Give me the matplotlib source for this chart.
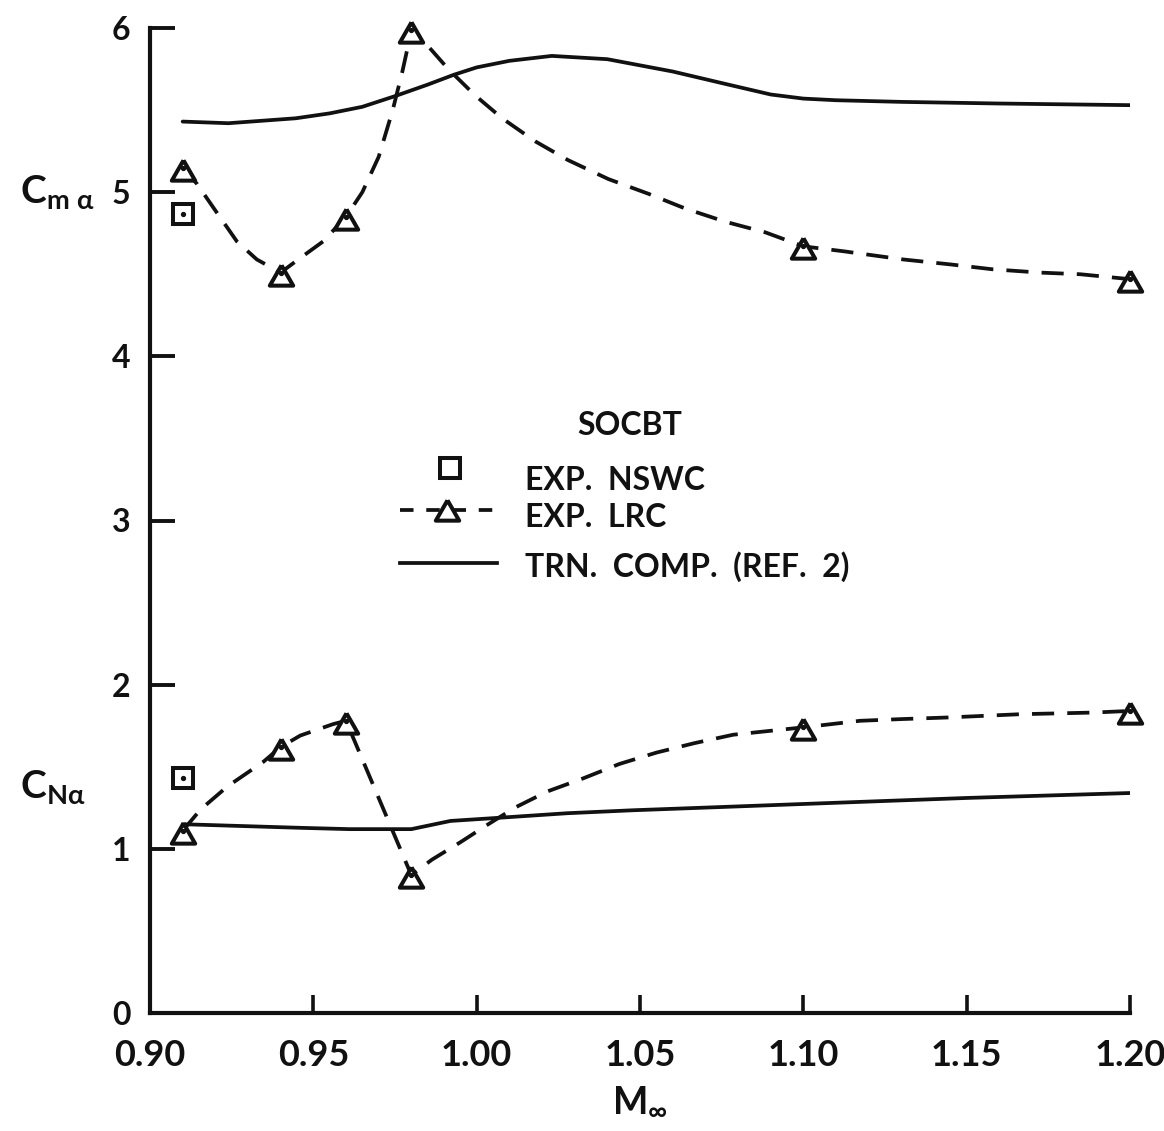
import matplotlib
matplotlib.use("Agg")
import matplotlib.pyplot as plt

plt.rcParams["font.family"] = ["Lato", "DejaVu Sans"]
plt.rcParams["font.weight"] = "bold"
plt.rcParams["mathtext.fontset"] = "dejavusans"
plt.rcParams["mathtext.default"] = "bf"

# Measured points, LRC tunnel (triangles)
mach_lrc = [0.91, 0.94, 0.96, 0.98, 1.10, 1.20]
cma_lrc = [5.15, 4.51, 4.85, 5.99, 4.67, 4.47]
cna_lrc = [1.11, 1.62, 1.78, 0.84, 1.74, 1.84]

# Measured points, NSWC tunnel (squares)
mach_nswc = [0.91]
cma_nswc = [4.87]
cna_nswc = [1.43]

# Faired curve through the LRC pitching-moment points
cma_fair_mach = [0.910, 0.9144, 0.9196, 0.9266, 0.9327, 0.940, 0.9447, 0.953, 0.960,
                 0.965, 0.970, 0.9743, 0.9772, 0.9792, 0.980, 0.984, 0.9913, 0.9995,
                 1.0078, 1.0179, 1.028, 1.0403, 1.0526, 1.0639, 1.0761, 1.0884, 1.100,
                 1.1123, 1.1306, 1.145, 1.158, 1.1725, 1.1848, 1.200]
cma_fair = [5.15, 5.05, 4.90, 4.70, 4.59, 4.51, 4.58, 4.70, 4.85,
            5.00, 5.215, 5.50, 5.73, 5.91, 5.99, 5.915, 5.75, 5.59,
            5.45, 5.31, 5.195, 5.08, 4.99, 4.90, 4.82, 4.755, 4.67,
            4.64, 4.59, 4.56, 4.53, 4.51, 4.50, 4.47]

# Faired curve through the LRC normal-force points
cna_fair_mach = [0.910, 0.9155, 0.9237, 0.9347, 0.940, 0.946, 0.9561, 0.960, 0.980,
                 0.9863, 0.995, 1.003, 1.0118, 1.0217, 1.0327, 1.0437, 1.055,
                 1.0665, 1.0785, 1.100, 1.1174, 1.1296, 1.144, 1.1663, 1.1886, 1.200]
cna_fair = [1.11, 1.24, 1.38, 1.53, 1.62, 1.69, 1.76, 1.78, 0.84,
            0.934, 1.04, 1.143, 1.252, 1.35, 1.43, 1.517, 1.586,
            1.643, 1.695, 1.74, 1.78, 1.79, 1.80, 1.82, 1.83, 1.84]

# Transonic computation (Ref. 2)
cma_trn_mach = [0.910, 0.924, 0.9446, 0.955, 0.965, 0.975, 0.985, 0.993, 1.000,
                1.010, 1.023, 1.040, 1.060, 1.076, 1.090, 1.100, 1.110, 1.130,
                1.160, 1.200]
cma_trn = [5.43, 5.42, 5.45, 5.48, 5.52, 5.585, 5.655, 5.715, 5.76,
           5.80, 5.83, 5.81, 5.735, 5.66, 5.595, 5.57, 5.56, 5.55,
           5.54, 5.53]

cna_trn_mach = [0.910, 0.946, 0.961, 0.980, 0.992, 1.0052, 1.0278, 1.0479, 1.0685,
                1.1092, 1.1502, 1.200]
cna_trn = [1.15, 1.128, 1.12, 1.12, 1.17, 1.187, 1.217, 1.235, 1.25,
           1.28, 1.31, 1.34]

x_ticks = [0.90, 0.95, 1.00, 1.05, 1.10, 1.15, 1.20]
x_tick_labels = ["0.90", "0.95", "1.00", "1.05", "1.10", "1.15", "1.20"]
y_ticks = [0, 1, 2, 3, 4, 5, 6]

INK = "#111111"
LW = 2.7
DASH = (5.9, 3.5)
MEW = 2.9
TRI = [(0.0, 0.35), (-0.5, -0.52), (0.5, -0.52), (0.0, 0.35)]

fig = plt.figure(figsize=(11.64, 11.31), dpi=100)
ax = fig.add_axes([150 / 1164, 118 / 1131, 980 / 1164, 985 / 1131])

# Curves
ax.plot(cma_trn_mach, cma_trn, color=INK, lw=LW, solid_capstyle="round",
        solid_joinstyle="round", zorder=2)
ax.plot(cna_trn_mach, cna_trn, color=INK, lw=LW, solid_capstyle="round",
        solid_joinstyle="round", zorder=2)
ax.plot(cma_fair_mach, cma_fair, color=INK, lw=LW, dashes=DASH,
        dash_joinstyle="round", zorder=2)
ax.plot(cna_fair_mach, cna_fair, color=INK, lw=LW, dashes=DASH,
        dash_joinstyle="round", zorder=2)

# Measured points
for ys in (cma_lrc, cna_lrc):
    ax.plot(mach_lrc, ys, ls="none", marker=TRI, ms=17.5, mfc="white", mec=INK,
            mew=MEW, clip_on=False, zorder=4)
    ax.plot(mach_lrc, ys, ls="none", marker="o", ms=2.8, color=INK,
            clip_on=False, zorder=5)
for ys in (cma_nswc, cna_nswc):
    ax.plot(mach_nswc, ys, ls="none", marker="s", ms=14.5, mfc="white", mec=INK,
            mew=MEW, clip_on=False, zorder=4)
    ax.plot(mach_nswc, ys, ls="none", marker="o", ms=2.8, color=INK,
            clip_on=False, zorder=5)

ax.set_xlim(0.90, 1.20)
ax.set_ylim(0, 6)
ax.set_xticks(x_ticks)
ax.set_xticklabels(x_tick_labels)
ax.set_yticks(y_ticks)

for side in ("top", "right"):
    ax.spines[side].set_visible(False)
for side in ("left", "bottom"):
    ax.spines[side].set_linewidth(3.0)
    ax.spines[side].set_color(INK)

ax.tick_params(axis="y", direction="in", length=18, width=2.8, pad=14,
               labelsize=23, colors=INK)
ax.tick_params(axis="x", direction="in", length=13, width=2.6, pad=19,
               labelsize=26, colors=INK)

# Axis labels
ax.text(0.5, -0.088, r"$\mathregular{M_{\infty}}$", transform=ax.transAxes,
        ha="center", va="center", fontsize=27, color=INK)
ax.text(-0.133, 0.834, r"$\mathregular{C_{m\;\alpha}}$", transform=ax.transAxes,
        ha="left", va="center", fontsize=28, color=INK)
ax.text(-0.133, 0.229, r"$\mathregular{C_{N\alpha}}$", transform=ax.transAxes,
        ha="left", va="center", fontsize=28, color=INK)

# Key
fs_key = 23
ax.text(0.490, 0.587, "SOCBT", transform=ax.transAxes, ha="center",
        va="baseline", fontsize=fs_key, color=INK)
ax.plot([0.306], [0.553], transform=ax.transAxes, ls="none", marker="s",
        ms=14.5, mfc="white", mec=INK, mew=MEW, clip_on=False)
ax.text(0.383, 0.531, "EXP.  NSWC", transform=ax.transAxes, ha="left",
        va="baseline", fontsize=fs_key, color=INK)
ax.plot([0.255, 0.354], [0.511, 0.511], transform=ax.transAxes, color=INK,
        lw=LW, dashes=(3.6, 3.4), clip_on=False)
ax.plot([0.303], [0.513], transform=ax.transAxes, ls="none", marker=TRI,
        ms=17.5, mfc="white", mec=INK, mew=MEW, clip_on=False)
ax.text(0.383, 0.493, "EXP.  LRC", transform=ax.transAxes, ha="left",
        va="baseline", fontsize=fs_key, color=INK)
ax.plot([0.255, 0.354], [0.457, 0.457], transform=ax.transAxes, color=INK,
        lw=LW, clip_on=False)
ax.text(0.383, 0.443, "TRN.  COMP.  (REF.  2)", transform=ax.transAxes,
        ha="left", va="baseline", fontsize=fs_key, color=INK)

fig.savefig("out.png", dpi=100, facecolor="white")
